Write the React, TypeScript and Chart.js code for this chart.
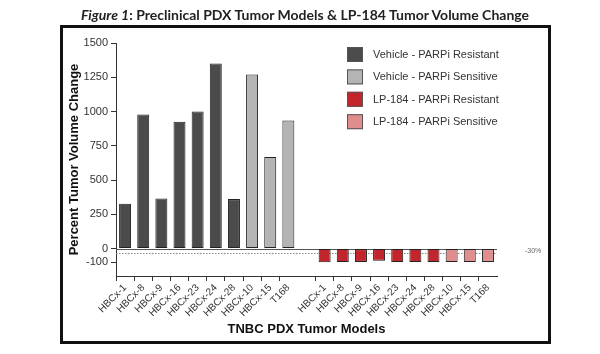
import React, { useEffect, useRef } from 'react';
import { Chart, registerables } from 'chart.js';

Chart.register(...registerables);

// ---- data ----
const resistantModels = ['HBCx-1', 'HBCx-8', 'HBCx-9', 'HBCx-16', 'HBCx-23', 'HBCx-24', 'HBCx-28'];
const sensitiveModels = ['HBCx-10', 'HBCx-15', 'T168'];
const vehicleResistant = [327, 978, 366, 925, 1000, 1350, 361];
const vehicleSensitive = [1270, 669, 935];
const lp184Resistant = [-99, -97, -97, -88, -97, -97, -97];
const lp184Sensitive = [-97, -97, -97];
const seriesNames = [
  'Vehicle - PARPi Resistant',
  'Vehicle - PARPi Sensitive',
  'LP-184 - PARPi Resistant',
  'LP-184 - PARPi Sensitive',
];
const seriesColors = ['#4b4b4b', '#b4b4b4', '#c2262c', '#e08d8e'];
const yTickValues = [-100, 0, 250, 500, 750, 1000, 1250, 1500];
const thresholdValue = -30;
const thresholdLabel = '-30%';

const groupModels = [...resistantModels, ...sensitiveModels];
const labels = [...groupModels, '', ...groupModels];
const N = labels.length;

function place(values: number[], start: number) {
  const arr: (number | null)[] = new Array(N).fill(null);
  values.forEach((v, i) => (arr[start + i] = v));
  return arr;
}

const FONT = '"Liberation Sans", Arial, sans-serif';

const refPlugin = {
  id: 'refLines',
  beforeDatasetsDraw(chart: any) {
    const { ctx, chartArea, scales } = chart;
    const y = scales.y;
    const y0 = Math.round(y.getPixelForValue(0)) + 0.5;
    const yt = Math.round(y.getPixelForValue(thresholdValue)) + 0.5;
    ctx.save();
    ctx.lineWidth = 1;
    ctx.strokeStyle = '#555';
    ctx.beginPath();
    ctx.moveTo(chartArea.left, y0);
    ctx.lineTo(chartArea.right, y0);
    ctx.stroke();
    ctx.strokeStyle = '#888';
    ctx.setLineDash([1.5, 1.5]);
    ctx.beginPath();
    ctx.moveTo(chartArea.left, yt);
    ctx.lineTo(chartArea.right, yt);
    ctx.stroke();
    ctx.restore();
  },
  afterDraw(chart: any) {
    const { ctx, scales } = chart;
    const y = scales.y;
    ctx.save();
    // threshold label
    ctx.font = `7px ${FONT}`;
    ctx.fillStyle = '#666';
    ctx.textAlign = 'left';
    ctx.textBaseline = 'middle';
    ctx.fillText(thresholdLabel, 525, y.getPixelForValue(thresholdValue) - 2);
    // legend
    chart.data.datasets.forEach((ds: any, i: number) => {
      const bx = 347;
      const by = 47 + i * 22.4;
      ctx.fillStyle = ds.backgroundColor;
      ctx.fillRect(bx, by, 16, 15);
      ctx.strokeStyle = '#555';
      ctx.lineWidth = 1;
      ctx.strokeRect(bx + 0.5, by + 0.5, 15, 14);
      ctx.fillStyle = '#333';
      ctx.font = `11px ${FONT}`;
      ctx.textBaseline = 'middle';
      ctx.fillText(ds.label, 373, by + 8);
    });
    ctx.restore();
  },
};

export default function App() {
  const ref = useRef<HTMLCanvasElement>(null);
  useEffect(() => {
    if (!ref.current) return;
    const starts = [0, resistantModels.length, groupModels.length + 1, groupModels.length + 1 + resistantModels.length];
    const values = [vehicleResistant, vehicleSensitive, lp184Resistant, lp184Sensitive];
    const chart = new Chart(ref.current, {
      type: 'bar',
      data: {
        labels,
        datasets: values.map((v, i) => ({
          label: seriesNames[i],
          data: place(v, starts[i]),
          backgroundColor: seriesColors[i],
          borderColor: '#222',
          borderWidth: 1,
          borderSkipped: false,
          grouped: false,
          barPercentage: 0.66,
          categoryPercentage: 1,
        })),
      },
      options: {
        animation: false,
        responsive: false,
        devicePixelRatio: 1,
        layout: { padding: { left: 60, right: 103, top: 43, bottom: 10 } },
        plugins: { legend: { display: false }, tooltip: { enabled: false }, title: { display: false } },
        scales: {
          x: {
            offset: true,
            grid: {
              display: true,
              drawOnChartArea: false,
              tickLength: 5,
              tickColor: (c: any) => (labels[c.index] ? '#333' : 'rgba(0,0,0,0)'),
            },
            border: { display: true, color: '#333', width: 1 },
            ticks: {
              autoSkip: false,
              maxRotation: 45,
              minRotation: 45,
              padding: 1,
              color: '#333',
              font: { family: FONT, size: 10 },
            },
            title: {
              display: true,
              text: 'TNBC PDX Tumor Models',
              color: '#111',
              font: { family: FONT, size: 13, weight: 'bold' },
              padding: { top: 0, bottom: 7 },
            },
            afterFit(scale: any) {
              scale.height = 68;
            },
          },
          y: {
            min: -200,
            max: 1500,
            grid: { display: true, drawOnChartArea: false, tickLength: 5, tickColor: '#333' },
            border: { display: true, color: '#333', width: 1 },
            ticks: {
              padding: 3,
              color: '#333',
              font: { family: FONT, size: 11 },
              callback: (v: any) => String(v),
            },
            afterBuildTicks(scale: any) {
              scale.ticks = yTickValues.map((v) => ({ value: v }));
            },
            title: {
              display: true,
              text: 'Percent Tumor Volume Change',
              color: '#111',
              font: { family: FONT, size: 13, weight: 'bold' },
              padding: { top: 7, bottom: 0 },
            },
            afterFit(scale: any) {
              scale.width = 56;
            },
          },
        },
      },
      plugins: [refPlugin],
    } as any);
    return () => chart.destroy();
  }, []);

  return (
    <div style={{ position: 'fixed', left: 0, top: 0, width: 600, height: 354, background: '#fff' }}>
      <canvas ref={ref} width={600} height={354} style={{ position: 'absolute', left: 0, top: 0, width: 600, height: 354 }} />
      <div
        style={{
          position: 'absolute',
          left: 60,
          top: 25,
          width: 491,
          height: 319,
          border: '3px solid #111',
          boxSizing: 'border-box',
          pointerEvents: 'none',
        }}
      />
      <div
        style={{
          position: 'absolute',
          left: 0,
          top: 6,
          width: 610,
          textAlign: 'center',
          fontFamily: 'Lato, "Liberation Sans", sans-serif',
          fontWeight: 'bold',
          fontSize: 14,
          lineHeight: '18px',
          color: '#222',
        }}
      >
        <i>Figure 1</i>: Preclinical PDX Tumor Models &amp; LP-184 Tumor Volume Change
      </div>
    </div>
  );
}
